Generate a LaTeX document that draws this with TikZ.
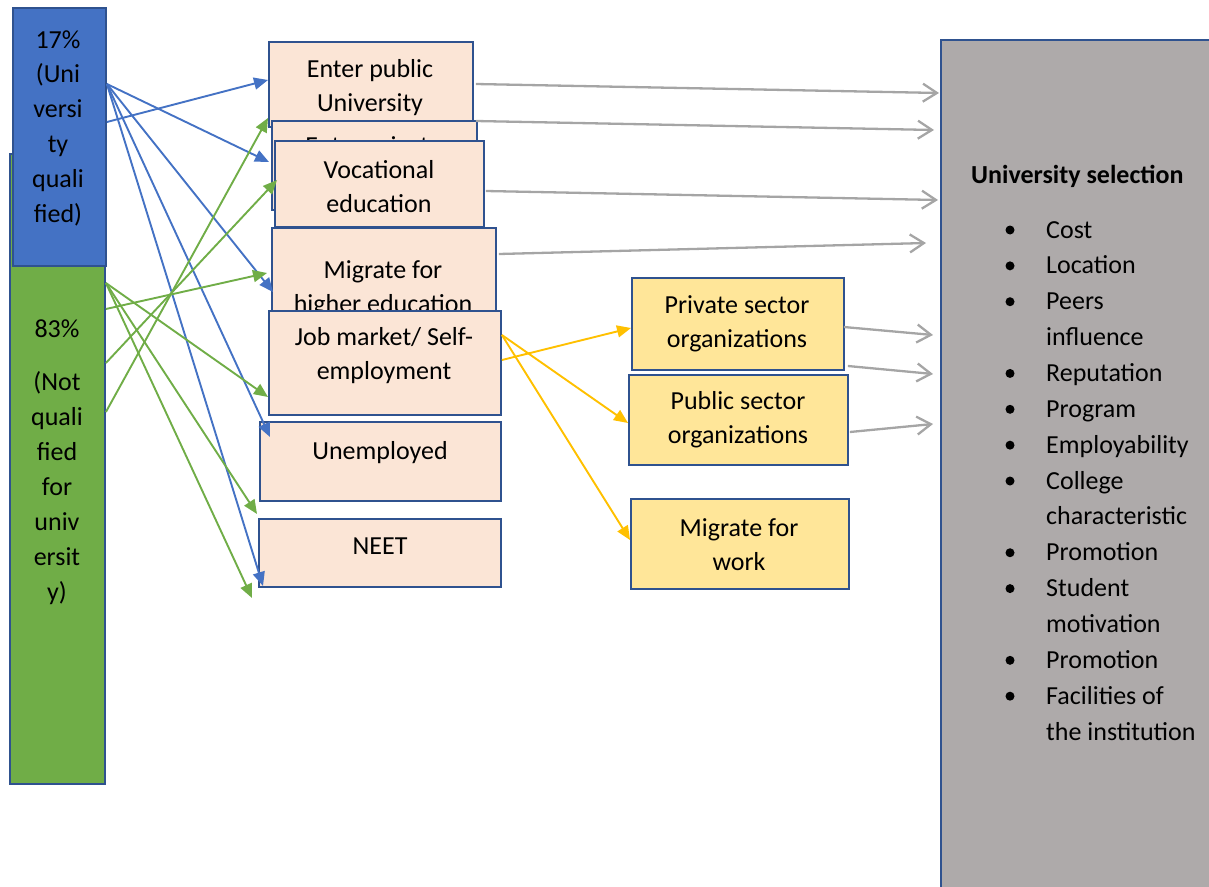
\documentclass[tikz,border=0pt]{standalone}
\usepackage{fontspec}
\setmainfont{Carlito}
\usetikzlibrary{arrows.meta,calc}
\definecolor{bordc}{HTML}{2F528F}
\definecolor{bluef}{HTML}{4472C4}
\definecolor{greenf}{HTML}{70AD47}
\definecolor{pinkf}{HTML}{FBE5D6}
\definecolor{yellf}{HTML}{FFE699}
\definecolor{grayf}{HTML}{AEAAAA}
\definecolor{goldc}{HTML}{FFC000}
\definecolor{grayc}{HTML}{A5A5A5}
\begin{document}
\begin{tikzpicture}[x=1pt,y=-1pt,
  box/.style={draw=bordc, line width=1.9pt, rectangle, inner sep=0pt, anchor=north west},
  pinkbox/.style={box, fill=pinkf},
  yellbox/.style={box, fill=yellf},
  txt/.style={font=\fontsize{26}{34}\selectfont, align=center, inner sep=0pt},
  conn/.style={line width=1.9pt, -{Triangle[length=14pt,width=12pt]}},
  bconn/.style={conn, draw=bluef},
  gconn/.style={conn, draw=greenf},
  yconn/.style={conn, draw=goldc},
  grconn/.style={line width=2.3pt, draw=grayc, -{Straight Barb[length=14pt,width=18pt]}}
]
\useasboundingbox (0,0) rectangle (1209,886);
\clip (0,0) rectangle (1209,886);

% left columns
\node[box, fill=greenf, minimum width=95pt, minimum height=630pt] (green) at (9,153) {};
\node[txt, font=\fontsize{26}{35}\selectfont] (greent) at (57,462) {83\%\\[18pt](Not\\quali\\fied\\for\\univ\\ersit\\y)};
\node[box, fill=bluef, minimum width=93pt, minimum height=258pt] (blue) at (12,7) {};
\node[txt, font=\fontsize{26}{34.8}\selectfont] (bluet) at (58,128) {17\%\\(Uni\\versi\\ty\\quali\\fied)};

% middle column
\node[pinkbox, minimum width=204pt, minimum height=85pt] (pub) at (268,41) {};
\node[txt] (pubt) at (370,88) {Enter public\\University};
\node[pinkbox, minimum width=205pt, minimum height=89pt] (priv) at (271,120) {};
\node[txt] (privt) at (373.5,165) {Enter private\\University};
\node[pinkbox, minimum width=209pt, minimum height=86pt] (voc) at (274,140) {};
\node[txt] (voct) at (379,187) {Vocational\\education};
\node[pinkbox, minimum width=224pt, minimum height=95pt] (mig) at (271,227) {};
\node[txt] (migt) at (383,289) {Migrate for\\higher education};
\node[pinkbox, minimum width=232pt, minimum height=104pt] (job) at (268,310) {};
\node[txt] (jobt) at (384,356) {Job market/ Self-\\employment};
\node[pinkbox, minimum width=241pt, minimum height=79pt] (unemp) at (259,421) {};
\node[txt] (unempt) at (380,453) {Unemployed};
\node[pinkbox, minimum width=242pt, minimum height=68pt] (neet) at (258,518) {};
\node[txt] (neett) at (380,546) {NEET};

% employment outcomes
\node[yellbox, minimum width=212pt, minimum height=92pt] (psec) at (631,277) {};
\node[txt] (psect) at (737,324) {Private sector\\organizations};
\node[yellbox, minimum width=219pt, minimum height=90pt] (pubsec) at (628,374) {};
\node[txt] (pubsect) at (738,420) {Public sector\\organizations};
\node[yellbox, minimum width=218pt, minimum height=90pt] (migw) at (630,498) {};
\node[txt] (migwt) at (739,545) {Migrate for\\work};

% university selection
\node[box, fill=grayf, minimum width=300pt, minimum height=900pt] (gray) at (940,39) {};
\node[anchor=base west, inner sep=0pt, font=\fontsize{26}{34}\selectfont\bfseries] (title) at (971,183) {University selection};
\foreach \lbl/\bul [count=\i] in {Cost/1,Location/1,Peers/1,influence/0,Reputation/1,Program/1,Employability/1,College/1,characteristic/0,Promotion/1,Student/1,motivation/0,Promotion/1,Facilities of/1,the institution/0}{
  \node[anchor=base west, inner sep=0pt, font=\fontsize{26}{34}\selectfont] (it\i) at (1046,{238+(\i-1)*35.86}) {\lbl};
  \ifnum\bul=1
    \node[circle, fill=black, inner sep=0pt, minimum size=9pt] (bu\i) at (1010,{230+(\i-1)*35.86}) {};
  \fi
}

% connector end points
\coordinate (b1) at ($(blue.north east)+(0,77)$);
\coordinate (b2) at ($(blue.north east)+(0,115)$);
\coordinate (g1) at ($(green.north east)+(0,130)$);
\coordinate (g2) at ($(green.north east)+(0,156)$);
\coordinate (g3) at ($(green.north east)+(0,210)$);
\coordinate (g4) at ($(green.north east)+(0,259)$);
\coordinate (gend) at (252,598);
\coordinate (y1) at ($(job.north east)+(0,25)$);
\coordinate (y2) at ($(job.north east)+(0,50)$);

% blue connectors
\draw[bconn] (b2) -- ($(pub.north west)+(0,39)$);
\draw[bconn] (b1) -- ($(priv.north west)+(-2,42)$);
\draw[bconn] (b1) -- ($(mig.north west)+(2,65)$);
\draw[bconn] (b1) -- ($(unemp.north west)+(11,16)$);
\draw[bconn] (b1) -- ($(neet.north west)+(5,68)$);

% green connectors
\draw[gconn] (g4) -- ($(pub.north west)+(0,77)$);
\draw[gconn] (g3) -- ($(voc.north west)+(3,40)$);
\draw[gconn] (g2) -- ($(mig.north west)+(-4,46)$);
\draw[gconn] (g1) -- ($(job.north west)+(0,87)$);
\draw[gconn] (g1) -- ($(neet.north west)+(-1,-4)$);
\draw[gconn] (g1) -- (gend);

% yellow connectors
\draw[yconn] (y1) -- ($(pubsec.north west)+(0,49)$);
\draw[yconn] (y1) -- ($(migw.north west)+(0,42)$);
\draw[yconn] (y2) -- ($(psec.north west)+(0,51)$);

% gray connectors
\draw[grconn] ($(pub.north east)+(2,43)$) -- ($(gray.north west)+(-1,54)$);
\draw[grconn] ($(priv.north east)+(-2,1)$) -- ($(gray.north west)+(-6,91)$);
\draw[grconn] ($(voc.north east)+(1,51)$) -- ($(gray.north west)+(-2,161)$);
\draw[grconn] ($(mig.north east)+(2,27)$) -- ($(gray.north west)+(-14,204)$);
\draw[grconn] ($(psec.north east)+(-1,50)$) -- ($(gray.north west)+(-7,296)$);
\draw[grconn] ($(psec.north east)+(3,89)$) -- ($(gray.north west)+(-7,335)$);
\draw[grconn] ($(pubsec.north east)+(1,58)$) -- ($(gray.north west)+(-7,385)$);
\end{tikzpicture}
\end{document}
